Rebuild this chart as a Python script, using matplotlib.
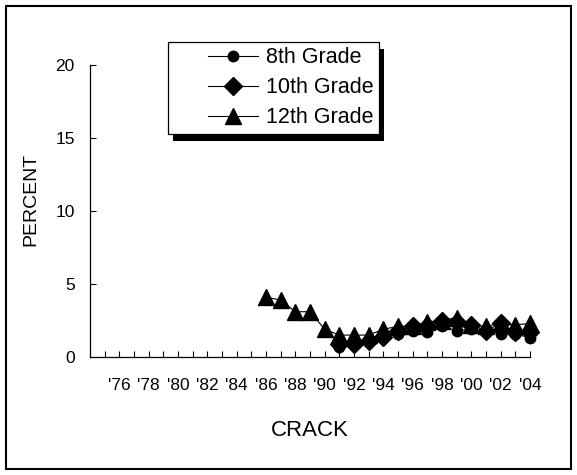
import matplotlib
matplotlib.use("Agg")
import matplotlib.pyplot as plt
from matplotlib.patches import Rectangle
from matplotlib.lines import Line2D
from matplotlib.legend_handler import HandlerLine2D

plt.rcParams['font.family'] = ['Liberation Sans', 'DejaVu Sans']

years_12 = [1986, 1987, 1988, 1989, 1990, 1991, 1992, 1993, 1994, 1995,
            1996, 1997, 1998, 1999, 2000, 2001, 2002, 2003, 2004]
grade12 = [4.1, 3.9, 3.1, 3.1, 1.9, 1.5, 1.5, 1.5, 1.9, 2.1,
           2.1, 2.4, 2.5, 2.7, 2.2, 2.1, 2.3, 2.2, 2.3]
years_8_10 = [1991, 1992, 1993, 1994, 1995, 1996, 1997, 1998, 1999, 2000,
              2001, 2002, 2003, 2004]
grade10 = [0.9, 0.9, 1.1, 1.4, 1.8, 2.1, 2.1, 2.5, 2.4, 2.2, 1.8, 2.3, 1.7, 1.7]
grade8 = [0.7, 0.9, 1.0, 1.3, 1.6, 1.8, 1.7, 2.1, 1.8, 1.9, 1.7, 1.6, 1.6, 1.3]

tick_years = list(range(1975, 2005))
tick_labels = ["'%02d" % (y % 100) if y % 2 == 0 else "" for y in tick_years]
y_ticks = [0, 5, 10, 15, 20]
series_names = ["8th Grade", "10th Grade", "12th Grade"]


class RightHandler(HandlerLine2D):
    """Draw the legend line only in the right part of the handle box."""
    def __init__(self, frac, **kw):
        super().__init__(**kw)
        self.frac = frac

    def create_artists(self, legend, orig_handle, xdescent, ydescent,
                       width, height, fontsize, trans):
        xd = xdescent - width * (1 - self.frac)
        return super().create_artists(legend, orig_handle, xd, ydescent,
                                      width * self.frac, height, fontsize, trans)


W, H = 577, 475
fig = plt.figure(figsize=(W / 100, H / 100), dpi=100)
ax = fig.add_axes([90 / W, (H - 357) / H, 440 / W, 292 / H])
ax.patch.set_visible(False)

line_kw = dict(color='black', lw=0.8, clip_on=False)
ax.plot(years_12, grade12, marker='^', markersize=11, **line_kw, zorder=3)
ax.plot(years_8_10, grade8, marker='o', markersize=7.5, **line_kw, zorder=3)
ax.plot(years_8_10, grade10, marker='D', markersize=9, **line_kw, zorder=3)

ax.set_xlim(1974, 2004)
ax.set_ylim(0, 20)
ax.set_xticks(tick_years)
ax.set_xticklabels(tick_labels)
ax.set_yticks(y_ticks)
ax.tick_params(axis='both', direction='in', length=4, width=0.8, colors='black',
               labelsize=12.5)
ax.tick_params(axis='x', pad=15)
ax.tick_params(axis='y', pad=11)
for s in ['top', 'right']:
    ax.spines[s].set_visible(False)
for s in ['left', 'bottom']:
    ax.spines[s].set_linewidth(0.9)

ax.set_ylabel('PERCENT', fontsize=14)
ax.yaxis.set_label_coords(-0.116, 0.54)
ax.set_xlabel('CRACK', fontsize=16)
ax.xaxis.set_label_coords(0.5, -0.216)

handles = [
    Line2D([], [], color='black', lw=0.8, marker='o', markersize=7.5),
    Line2D([], [], color='black', lw=0.8, marker='D', markersize=9),
    Line2D([], [], color='black', lw=0.8, marker='^', markersize=11),
]
hmap = {h: RightHandler(0.59) for h in handles}
leg = ax.legend(handles, series_names, loc='upper left',
                bbox_to_anchor=(168 / W, 1 - 42 / H), bbox_transform=fig.transFigure,
                borderaxespad=0, fancybox=False, fontsize=15.5, frameon=True,
                handlelength=3.93, handletextpad=0.37, labelspacing=0.42,
                borderpad=0.25, handler_map=hmap)
leg.get_frame().set_edgecolor('black')
leg.get_frame().set_linewidth(0.9)
leg.get_frame().set_alpha(1)
leg.set_zorder(6)

fig.canvas.draw()
bb = leg.get_window_extent()
inv = fig.transFigure.inverted()
(x0, y0), (x1, y1) = inv.transform([[bb.x0 + 5, bb.y0 - 7], [bb.x1 + 5, bb.y1 - 7]])
ax.add_patch(Rectangle((x0, y0), x1 - x0, y1 - y0, transform=fig.transFigure,
                       facecolor='black', edgecolor='none', clip_on=False, zorder=5))

fig.patches.append(Rectangle((6 / W, 6 / H), 565 / W, 463 / H, transform=fig.transFigure,
                             facecolor='none', edgecolor='black', lw=1.5))

fig.savefig('out.png', dpi=100, facecolor='white')
